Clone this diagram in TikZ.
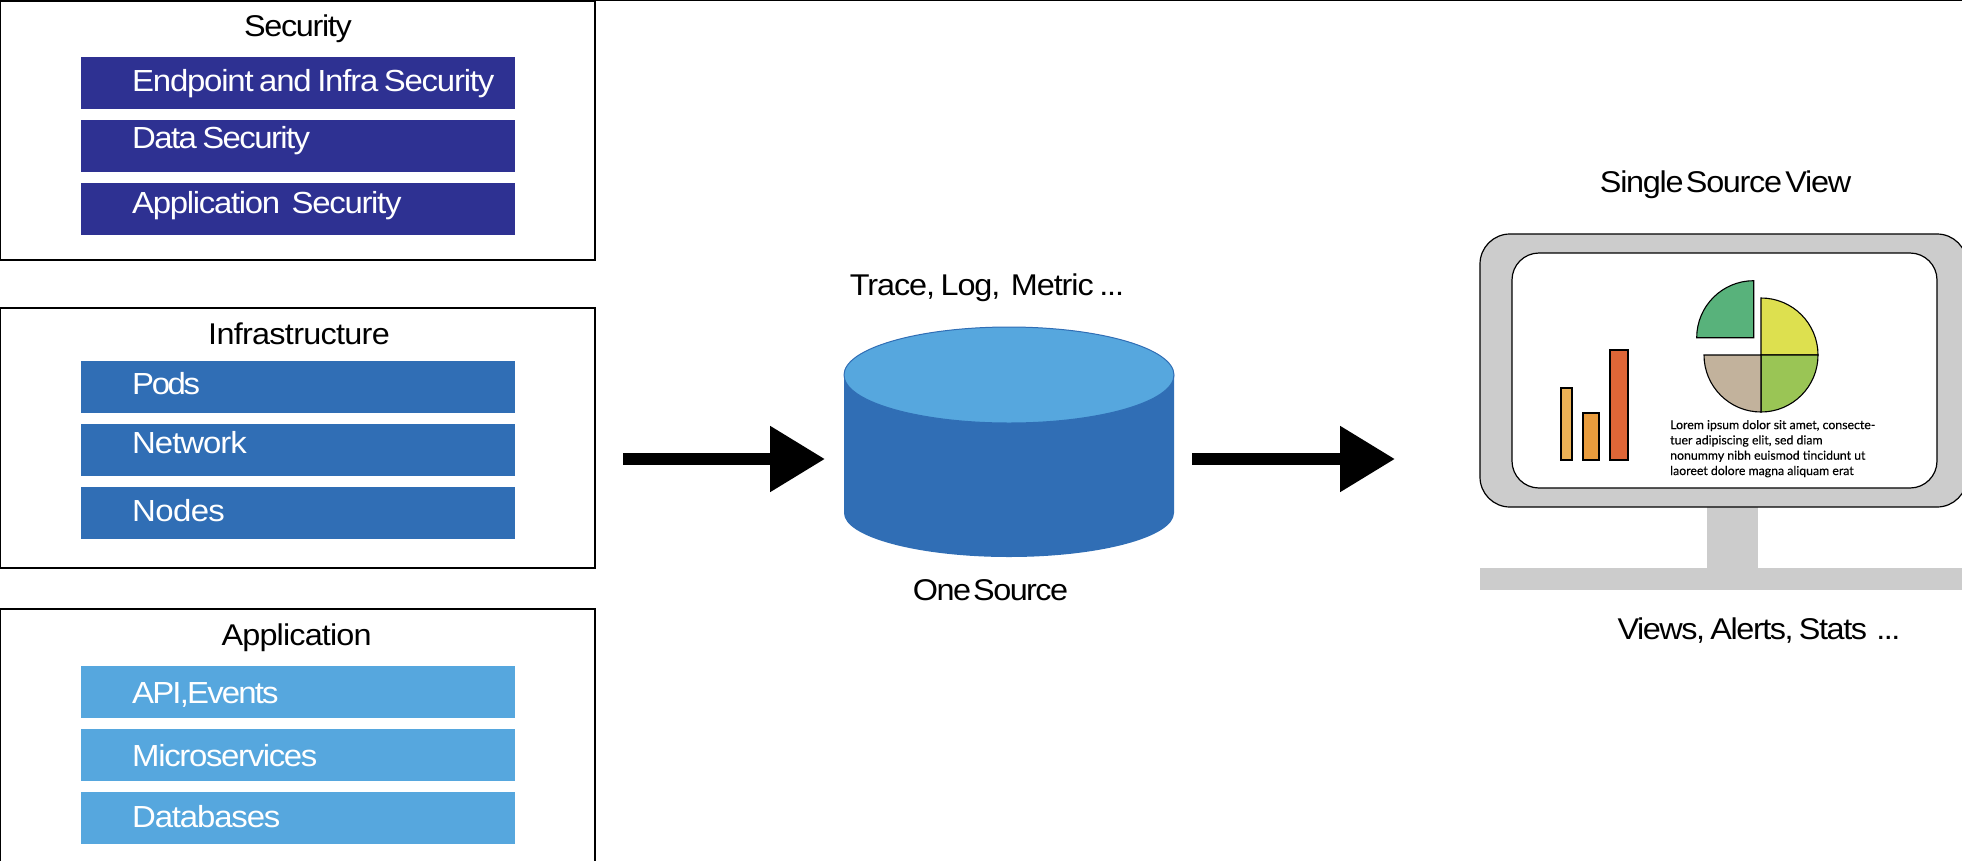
\documentclass[tikz,border=0pt]{standalone}
\usepackage{fontspec}
\setmainfont{Liberation Sans}
\newfontfamily\tight[FakeStretch=1.08,WordSpace=0.7]{Liberation Sans}
\newfontfamily\lorem[FakeBold=0.3]{Lato}
\newcommand{\ls}[1]{\addfontfeature{LetterSpace=#1}}
\usetikzlibrary{arrows.meta}
\definecolor{navy}{HTML}{2E3192}
\definecolor{midblue}{HTML}{306EB5}
\definecolor{skyblue}{HTML}{56A7DE}
\definecolor{monitorgray}{HTML}{CCCCCC}
\definecolor{barA}{HTML}{EDB255}
\definecolor{barB}{HTML}{E99C3D}
\definecolor{barC}{HTML}{DF6637}
\definecolor{pieY}{HTML}{DDE04F}
\definecolor{pieG}{HTML}{9AC555}
\definecolor{pieT}{HTML}{C2B29C}
\definecolor{pieD}{HTML}{58B27B}
\tikzset{
 x=1pt,y=-1pt,
 panel/.style={draw=black,line width=1.3pt,fill=white},
 barbox/.style={anchor=north west,minimum width=434pt,minimum height=52pt,inner sep=0pt,draw=none},
 bartext/.style={anchor=base west,inner sep=0pt,text=white,font=\fontsize{30.5}{31}\selectfont\tight},
 title/.style={anchor=base,inner sep=0pt,font=\fontsize{30}{30}\selectfont\tight},
 flow/.style={line width=12pt,-{Triangle[length=55pt,width=63pt]}},
 chart/.style={draw=black,line width=1.1pt},
}
\begin{document}
\begin{tikzpicture}
\useasboundingbox (0,0) rectangle (1962,860);
\clip (0,0) rectangle (1962,860);
\draw[black,line width=1.3pt] (0,0.5) -- (1962,0.5);
% panels
\draw[panel] (0.5,1) rectangle (595,260);
\draw[panel] (0.5,308) rectangle (595,568);
\draw[panel] (0.5,609) rectangle (595,870);
% security
\node[title] (tsec) at (298,36) {\ls{-4.5}Security};
\node[barbox,fill=navy] (b1) at (81,57) {};
\node[barbox,fill=navy] (b2) at (81,120) {};
\node[barbox,fill=navy] (b3) at (81,183) {};
\node[bartext] (t1) at (132,91) {\ls{-4}Endpoint and Infra Security};
\node[bartext] (t2) at (132,148) {\ls{-5.2}Data Security};
\node[bartext] (t3) at (132,213) {\ls{-4.3}Application\hspace{6pt} Security};
% infrastructure
\node[title] (tinf) at (299,344) {\ls{-2.4}Infrastructure};
\node[barbox,fill=midblue] (b4) at (81,361) {};
\node[barbox,fill=midblue] (b5) at (81,424) {};
\node[barbox,fill=midblue] (b6) at (81,487) {};
\node[bartext] (t4) at (132,394) {\ls{-7.9}Pods};
\node[bartext] (t5) at (132,453) {\ls{-3.4}Network};
\node[bartext] (t6) at (132,521) {\ls{-2}Nodes};
% application
\node[title] (tapp) at (296.6,645) {\ls{-2.8}Application};
\node[barbox,fill=skyblue] (b7) at (81,666) {};
\node[barbox,fill=skyblue] (b8) at (81,729) {};
\node[barbox,fill=skyblue] (b9) at (81,792) {};
\node[bartext] (t7) at (132,703) {\ls{-6}API,Events};
\node[bartext] (t8) at (132,766) {\ls{-4.4}Microservices};
\node[bartext] (t9) at (132,827) {\ls{-3.8}Databases};
% cylinder
\fill[midblue] (844,375) -- (844,513) .. controls (844,537) and (918,557) .. (1009,557) .. controls (1100,557) and (1174,537) .. (1174,513) -- (1174,375) -- cycle;
\draw[midblue,fill=skyblue,line width=1pt] (1009,375) ellipse [x radius=165,y radius=48];
\node[title] (ttrace) at (987,295) {\ls{-3.6}Trace, Log,\, Metric ...};
\node[title] (tone) at (990.5,600) {\ls{-5.2}One\hspace{-3pt} Source};
% arrows
\coordinate (a1s) at (623,459);
\coordinate (a1e) at (825,459);
\coordinate (a2s) at (1192,459);
\coordinate (a2e) at (1395,459);
\draw[flow] (a1s) -- (a1e);
\draw[flow] (a2s) -- (a2e);
% monitor
\fill[monitorgray] (1707,500) rectangle (1758,570);
\fill[monitorgray] (1480,568) rectangle (1970,590);
\draw[black,fill=monitorgray,line width=1.2pt,rounded corners=30pt] (1480,234) rectangle (1967,507);
\draw[black,fill=white,line width=1.2pt,rounded corners=27pt] (1512,253) rectangle (1937,488);
% bars
\draw[chart,fill=barA] (1561,388) rectangle (1572,460);
\draw[chart,fill=barB] (1583,413) rectangle (1599,460);
\draw[chart,fill=barC] (1610,350) rectangle (1628,460);
% pie
\draw[chart,fill=pieY] (1761,355) -- (1761,298) .. controls (1792.5,298) and (1818,323.5) .. (1818,355) -- cycle;
\draw[chart,fill=pieG] (1761,355) -- (1818,355) .. controls (1818,386.5) and (1792.5,412) .. (1761,412) -- cycle;
\draw[chart,fill=pieT] (1761,355) -- (1761,412) .. controls (1729.5,412) and (1704,386.5) .. (1704,355) -- cycle;
\draw[chart,fill=pieD] (1753.7,337.7) -- (1696.7,337.7) .. controls (1696.7,306.2) and (1722.2,280.7) .. (1753.7,280.7) -- cycle;
\node[anchor=base west,inner sep=0pt,align=left,font=\fontsize{12.3}{15.3}\selectfont\lorem] (lorem) at (1670,475) {Lorem ipsum dolor sit amet, consecte-\\tuer adipiscing elit, sed diam\\nonummy nibh euismod tincidunt ut\\laoreet dolore magna aliquam erat};
\node[title] (tsingle) at (1725.6,192) {\ls{-4.3}Single\hspace{-3pt} Source\hspace{-2pt} View};
\node[title] (tviews) at (1759,639) {\ls{-4.8}Views, Alerts, Stats\hspace{4pt} ...};
\end{tikzpicture}
\end{document}
